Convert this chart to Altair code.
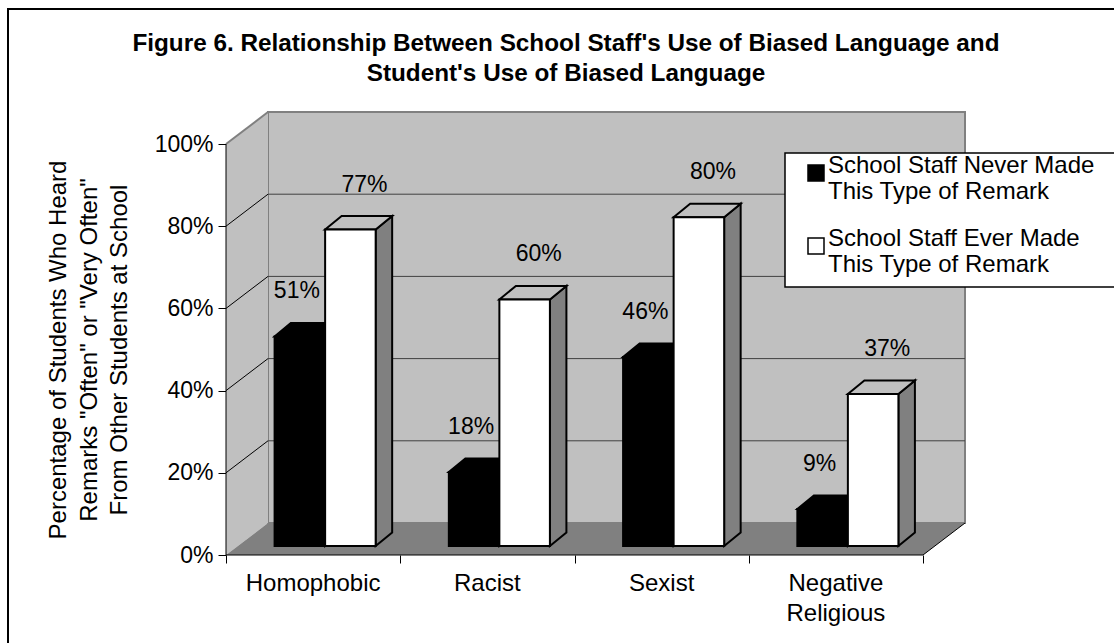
import altair as alt
import pandas as pd

# ---- data -------------------------------------------------------------
categories = ["Homophobic", "Racist", "Sexist", "Negative Religious"]
series = [
    "School Staff Never Made This Type of Remark",
    "School Staff Ever Made This Type of Remark",
]
never_made = [51, 18, 46, 9]
ever_made = [77, 60, 80, 37]
y_ticks = [0, 20, 40, 60, 80, 100]
grid_values = [20, 40, 60, 80]

title_lines = [
    "Figure 6. Relationship Between School Staff's Use of Biased Language and",
    "Student's Use of Biased Language",
]
y_title = [
    "Percentage of Students Who Heard",
    'Remarks "Often" or "Very Often"',
    "From Other Students at School",
]

# ---- 3-D box geometry (x in category slots, y in percentage points) -------
PX_X = 174.25            # pixels per category slot
PX_Y = 4.11              # pixels per percentage point
N = len(categories)
WALL_DX = 42 / PX_X      # depth of the box
WALL_DY = 32 / PX_Y
FRONT_DX = 12 / PX_X     # bars stand a little behind the front edge
FRONT_DY = 9 / PX_Y
BAR_DX = 16.5 / PX_X     # depth of a bar
BAR_DY = 13.5 / PX_Y
BAR_W = 0.29
GAP = (1 - 2 * BAR_W) / 2

W = round((N + WALL_DX) * PX_X)
H = 443

xs = alt.Scale(domain=[0, N + WALL_DX], nice=False, zero=False)
ys = alt.Scale(domain=[0, 100 + WALL_DY], nice=False, zero=False)

x_axis = alt.Axis(values=list(range(N + 1)), labels=False, tickSize=8,
                  tickColor="black", domain=False, grid=False, title=None)
y_axis = alt.Axis(values=y_ticks, labelExpr="datum.value + '%'", tickSize=8,
                  tickColor="black", domain=False, grid=False,
                  labelFontSize=23, labelPadding=5, labelColor="black",
                  title=y_title, titleFontSize=24, titleFontWeight="normal",
                  titleColor="black", titleAngle=-90, titleAlign="center",
                  titleBaseline="middle", titleLineHeight=30.5,
                  titleX=-167.5, titleY=(100 * PX_Y) / 2 + WALL_DY * PX_Y)


def X(f):
    return alt.X(f, type="quantitative", scale=xs, axis=x_axis)


def Y(f):
    return alt.Y(f, type="quantitative", scale=ys, axis=y_axis)


def X2(f):
    return alt.X2(f)


def Y2(f):
    return alt.Y2(f)


# ---- bar faces ----------------------------------------------------------
front, top, side = [], [], []
for i, cat in enumerate(categories):
    for s, (name, vals) in enumerate(zip(series, [never_made, ever_made])):
        v = vals[i]
        x0 = i + GAP + s * BAR_W + FRONT_DX
        x1 = x0 + BAR_W
        y0 = FRONT_DY
        y1 = v + FRONT_DY
        bar = f"{cat}|{name}"
        front.append(dict(bar=bar, series=name, s=s, value=v, x0=x0, x1=x1,
                          y0=y0, y1=y1, xc=(x0 + x1) / 2))
        top.append(dict(bar=bar, series=name, y=y1, xl=x0, xr=x1))
        top.append(dict(bar=bar, series=name, y=y1 + BAR_DY,
                        xl=x0 + BAR_DX, xr=x1 + BAR_DX))
        side.append(dict(bar=bar, series=name, x=x1, ylo=y0, yhi=y1))
        side.append(dict(bar=bar, series=name, x=x1 + BAR_DX,
                         ylo=y0 + BAR_DY, yhi=y1 + BAR_DY))
front_df = pd.DataFrame(front)
top_df = pd.DataFrame(top)
side_df = pd.DataFrame(side)

# ---- box: back wall, side wall, floor, grid -----------------------------
wall_df = pd.DataFrame({"x0": [WALL_DX], "x1": [N + WALL_DX],
                        "y0": [WALL_DY], "y1": [100 + WALL_DY]})
side_wall_df = pd.DataFrame({"x": [0, WALL_DX], "ylo": [0, WALL_DY],
                             "yhi": [100, 100 + WALL_DY]})
floor_df = pd.DataFrame({"y": [0, WALL_DY], "xl": [0, WALL_DX],
                         "xr": [N, N + WALL_DX]})
grid_df = pd.DataFrame({"v": grid_values})
grid_df["yb"] = grid_df["v"] + WALL_DY
grid_df["xa"] = WALL_DX
grid_df["xb"] = N + WALL_DX
grid_df["x0"] = 0.0

edges_df = pd.DataFrame({
    "x": [0, 0, N],
    "y": [0, 0, 0],
    "x2": [0, N, N + WALL_DX],
    "y2": [100, 0, WALL_DY],
})
top_edge_df = pd.DataFrame({"x": [0], "y": [100], "x2": [WALL_DX], "y2": [100 + WALL_DY]})
cat_df = pd.DataFrame({"cat": categories, "xc": [i + 0.5 for i in range(N)], "y": 0})

GRAY_LIGHT = "#c0c0c0"
GRAY_DARK = "#808080"
one_row = pd.DataFrame({"k": [0]})

# outer chart frame and the legend panel (both run on past the page edge)
frame = alt.Chart(one_row).mark_rect(
    fillOpacity=0, stroke="black", strokeWidth=2
).encode(x=alt.value(-218), x2=alt.value(900), y=alt.value(-103), y2=alt.value(540))

legend_panel = alt.Chart(one_row).mark_rect(
    fill="white", stroke="black", strokeWidth=1.5
).encode(x=alt.value(559), x2=alt.value(910), y=alt.value(41), y2=alt.value(175))

title = alt.Chart(one_row).mark_text(
    text=title_lines, fontSize=24.3, fontWeight="bold", align="center",
    baseline="alphabetic", lineHeight=30, color="black"
).encode(x=alt.value(340), y=alt.value(-61))

back_wall = alt.Chart(wall_df).mark_rect(
    fill=GRAY_LIGHT, stroke=GRAY_DARK, strokeWidth=2
).encode(x=X("x0"), x2=X2("x1"), y=Y("y0"), y2=Y2("y1"))

side_wall = alt.Chart(side_wall_df).mark_area(
    orient="vertical", fill=GRAY_LIGHT
).encode(x=X("x"), y=Y("ylo"), y2=Y2("yhi"))

floor = alt.Chart(floor_df).mark_area(
    orient="horizontal", fill=GRAY_DARK
).encode(y=Y("y"), x=X("xl"), x2=X2("xr"))

back_grid = alt.Chart(grid_df).mark_rule(color="#404040", strokeWidth=1).encode(
    x=X("xa"), x2=X2("xb"), y=Y("yb"), y2=Y2("yb"))

side_grid = alt.Chart(grid_df).mark_rule(color="black", strokeWidth=1).encode(
    x=X("x0"), x2=X2("xa"), y=Y("v"), y2=Y2("yb"))

top_edge = alt.Chart(top_edge_df).mark_rule(color=GRAY_DARK, strokeWidth=2).encode(
    x=X("x"), x2=X2("x2"), y=Y("y"), y2=Y2("y2"))

edges = alt.Chart(edges_df).mark_rule(color="black", strokeWidth=1).encode(
    x=X("x"), x2=X2("x2"), y=Y("y"), y2=Y2("y2"))

is_never = alt.datum.series == series[0]

sides = alt.Chart(side_df).mark_area(
    orient="vertical", stroke="black", strokeWidth=2, strokeJoin="miter"
).encode(x=X("x"), y=Y("ylo"), y2=Y2("yhi"), detail="bar:N",
         fill=alt.condition(is_never, alt.value("black"), alt.value(GRAY_DARK)))

tops = alt.Chart(top_df).mark_area(
    orient="horizontal", stroke="black", strokeWidth=2, strokeJoin="miter"
).encode(y=Y("y"), x=X("xl"), x2=X2("xr"), detail="bar:N",
         fill=alt.condition(is_never, alt.value("black"), alt.value(GRAY_LIGHT)))

# legend labels wrap before "This"
legend = alt.Legend(
    title=None, orient="none", legendX=559, legendY=41,
    symbolType="square", symbolSize=256, symbolStrokeColor="black",
    symbolStrokeWidth=1.5, symbolOffset=11, labelFontSize=24,
    labelOffset=0, labelLimit=500, labelColor="black", labelBaseline="alphabetic",
    labelExpr="[slice(datum.label, 0, indexof(datum.label, ' This')), "
              "slice(datum.label, indexof(datum.label, ' This') + 1)]",
    rowPadding=23, padding=8,
)

fronts = alt.Chart(front_df).mark_rect(stroke="black", strokeWidth=2).encode(
    x=X("x0"), x2=X2("x1"), y=Y("y0"), y2=Y2("y1"),
    fill=alt.Fill("series:N", scale=alt.Scale(domain=series, range=["black", "white"]),
                  legend=legend),
)

value_text = dict(fontSize=23, baseline="middle", align="center", dy=-45, color="black")
labels_never = alt.Chart(front_df).transform_filter(is_never).transform_calculate(
    lbl="datum.value + '%'").mark_text(dx=-3, **value_text).encode(
    x=X("xc"), y=Y("y1"), text="lbl:N")
labels_ever = alt.Chart(front_df).transform_filter(~is_never).transform_calculate(
    lbl="datum.value + '%'").mark_text(dx=14, **value_text).encode(
    x=X("xc"), y=Y("y1"), text="lbl:N")

cat_labels = alt.Chart(cat_df).mark_text(
    fontSize=24, baseline="alphabetic", align="center", dy=36,
    lineBreak=" ", lineHeight=30, color="black"
).encode(x=X("xc"), y=Y("y"), text="cat:N")

chart = alt.layer(
    frame, title, back_wall, side_wall, floor, back_grid, side_grid, top_edge,
    edges, sides, tops, fronts, labels_never, labels_ever, cat_labels,
    legend_panel,
).properties(
    width=W, height=H,
    autosize=alt.AutoSizeParams(type="none"),
    padding={"left": 226, "top": 112, "right": 1114 - 226 - W, "bottom": 643 - 112 - H},
    background="white",
).configure(font="Liberation Sans").configure_view(strokeWidth=0)

chart.save("out.html", embed_options={"renderer": "svg", "actions": False})
